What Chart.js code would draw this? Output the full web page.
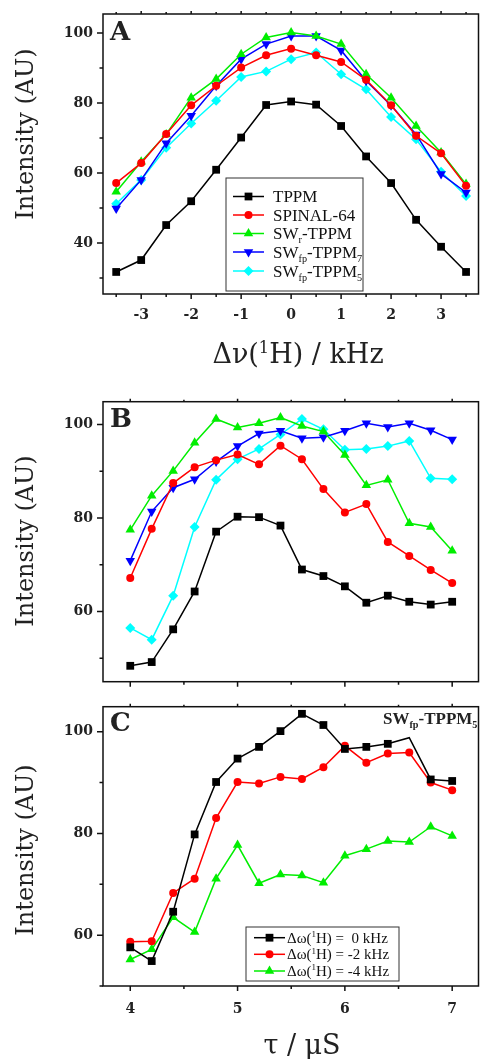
<!DOCTYPE html>
<html>
<head>
<meta charset="utf-8">
<script src="https://cdn.jsdelivr.net/npm/chart.js@4.4.1/dist/chart.umd.min.js"></script>
<style>
    body { margin: 0; background: #fff; width: 480px; height: 1059px; overflow: hidden; position: relative; }
    canvas { position: absolute; left: 0; }
</style>
</head>
<body>
<canvas id="chartA" width="480" height="400" style="top:-20px"></canvas>
<canvas id="chartB" width="480" height="350" style="top:360px"></canvas>
<canvas id="chartC" width="480" height="379" style="top:680px"></canvas>
<script>
    // Panel A: offset sweep (kHz)
    const offsets = [-3.5, -3, -2.5, -2, -1.5, -1, -0.5, 0, 0.5, 1, 1.5, 2, 2.5, 3, 3.5];
    const aTPPM   = [31.7, 35.1, 45.1, 51.9, 60.9, 70.1, 79.4, 80.4, 79.5, 73.4, 64.7, 57.1, 46.6, 38.9, 31.7];
    const aSPINAL = [57.1, 62.8, 71.1, 79.3, 84.9, 90.1, 93.6, 95.5, 93.6, 91.7, 86.6, 79.3, 70.6, 65.6, 56.3];
    const aSWr    = [54.6, 63.2, 71.0, 81.5, 86.8, 93.9, 98.7, 100.1, 99.1, 96.8, 88.2, 81.5, 73.4, 65.8, 56.8];
    const aSWfp7  = [49.8, 58.0, 68.5, 76.3, 84.9, 92.5, 96.8, 99.1, 99.1, 95.0, 86.3, 79.3, 71.0, 59.7, 54.4];
    const aSWfp5  = [51.2, 58.0, 67.2, 74.1, 80.6, 87.4, 89.0, 92.5, 94.4, 88.2, 83.9, 76.0, 69.6, 60.3, 53.4];

    // Panel B: pulse length sweep (us)
    const tau     = [4.0, 4.2, 4.4, 4.6, 4.8, 5.0, 5.2, 5.4, 5.6, 5.8, 6.0, 6.2, 6.4, 6.6, 6.8, 7.0];
    const bTPPM   = [48.4, 49.2, 56.2, 64.3, 77.1, 80.3, 80.2, 78.4, 69.0, 67.6, 65.4, 61.9, 63.4, 62.1, 61.5, 62.1];
    const bSPINAL = [67.2, 77.7, 87.5, 90.9, 92.4, 93.6, 91.5, 95.5, 92.6, 86.2, 81.2, 83.0, 74.9, 71.9, 68.9, 66.1];
    const bSWr    = [77.5, 84.8, 90.1, 96.1, 101.2, 99.4, 100.3, 101.5, 99.7, 98.5, 93.5, 87.0, 88.2, 78.9, 78.1, 73.0];
    const bSWfp7  = [70.9, 81.4, 86.5, 88.3, 92.1, 95.4, 98.1, 98.7, 97.1, 97.3, 98.7, 100.3, 99.5, 100.3, 98.8, 96.8];
    const bSWfp5  = [56.5, 54.0, 63.4, 78.1, 88.2, 92.6, 94.8, 97.9, 101.2, 99.0, 94.6, 94.8, 95.4, 96.5, 88.5, 88.3];

    // Panel C: SWfp-TPPM5 at three offsets
    const c0kHz   = [57.6, 54.9, 64.6, 79.8, 90.1, 94.7, 97.0, 100.1, 103.5, 101.3, 96.6, 97.0, 97.6, 98.8, 90.6, 90.3];
    const cm2kHz  = [58.7, 58.8, 68.3, 71.1, 83.0, 90.1, 89.8, 91.1, 90.7, 93.0, 97.2, 93.9, 95.7, 95.9, 90.0, 88.5];
    const cm4kHz  = [55.2, 57.2, 63.5, 60.6, 71.1, 77.7, 70.2, 71.9, 71.7, 70.3, 75.6, 76.9, 78.5, 78.3, 81.3, 79.5];

    // labels (_{..} = subscript, ^{..} = superscript)
    const seqLabels = ['TPPM', 'SPINAL-64', 'SW_{r}-TPPM', 'SW_{fp}-TPPM_{7}', 'SW_{fp}-TPPM_{5}'];
    const offLabels = ['\u0394\u03c9(^{1}H) =  0 kHz', '\u0394\u03c9(^{1}H) = -2 kHz', '\u0394\u03c9(^{1}H) = -4 kHz'];

    // tick values
    const aTicksX = [-3, -2, -1, 0, 1, 2, 3];
    const aMinorX = [-3.5, -2.5, -1.5, -0.5, 0.5, 1.5, 2.5, 3.5];
    const aTicksY = [40, 60, 80, 100];
    const aMinorY = [30, 50, 70, 90];
    const tauTicks = [4, 5, 6, 7];
    const tauMinor = [4.5, 5.5, 6.5];
    const bcTicksY = [60, 80, 100];
    const bcMinorY = [50, 70, 90];

    const TITLE_FONT = '"DejaVu Serif", serif';
    const LEG_FONT = '"Liberation Serif", serif';

    function pts(xs, ys) {
        return xs.map((x, i) => ({ x: x, y: ys[i] }));
    }

    // styles for the five sequences
    const styles = [
        { color: '#000000', pointStyle: 'rect', pointRadius: 5.5, rotation: 0 },
        { color: '#ff0000', pointStyle: 'circle', pointRadius: 4, rotation: 0 },
        { color: '#00ee00', pointStyle: 'triangle', pointRadius: 5.5, rotation: 0 },
        { color: '#0000ff', pointStyle: 'triangle', pointRadius: 5.5, rotation: 180 },
        { color: '#00ffff', pointStyle: 'rectRot', pointRadius: 5, rotation: 0 }
    ];

    function dataset(label, xs, ys, st, extra) {
        return Object.assign({
            label: label,
            data: pts(xs, ys),
            borderColor: st.color,
            backgroundColor: st.color,
            pointBackgroundColor: st.color,
            pointBorderColor: st.color,
            pointBorderWidth: 0,
            borderWidth: 1.5,
            pointStyle: st.pointStyle,
            pointRadius: st.pointRadius,
            pointRotation: st.rotation,
            legendRadius: st.pointRadius,
            tension: 0,
            clip: false
        }, extra || {});
    }

    // draws text with _{sub} and ^{sup} parts
    function drawRich(ctx, text, x, y, size, family, weight, align) {
        const parts = text.split(/(_\{[^}]*\}|\^\{[^}]*\})/).filter(s => s.length);
        const segs = parts.map(p => {
            if (p.startsWith('_{')) return { t: p.slice(2, -1), s: size * 0.6, dy: size * 0.25 };
            if (p.startsWith('^{')) return { t: p.slice(2, -1), s: size * 0.6, dy: -size * 0.38 };
            return { t: p, s: size, dy: 0 };
        });
        let total = 0;
        segs.forEach(g => { ctx.font = weight + ' ' + g.s + 'px ' + family; g.w = ctx.measureText(g.t).width; total += g.w; });
        let cx = align === 'center' ? x - total / 2 : x;
        ctx.textAlign = 'left';
        ctx.textBaseline = 'alphabetic';
        segs.forEach(g => {
            ctx.font = weight + ' ' + g.s + 'px ' + family;
            ctx.fillText(g.t, cx, y + g.dy);
            cx += g.w;
        });
    }

    function drawMarker(ctx, ds, x, y) {
        Chart.helpers.drawPoint(ctx, { pointStyle: ds.pointStyle, radius: ds.legendRadius, rotation: ds.pointRotation, borderWidth: 0 }, x, y);
    }

    // frame, ticks, titles, legend
    const decorPlugin = {
        id: 'decor',
        afterDraw(chart) {
            const o = chart.options.plugins.decor;
            const ctx = chart.ctx;
            const area = chart.chartArea;
            const xs = chart.scales.x, ys = chart.scales.y;
            const off = o.top;
            ctx.save();
            ctx.strokeStyle = '#111';
            ctx.lineWidth = 1.5;
            ctx.strokeRect(area.left, area.top, area.right - area.left + 4, area.bottom - area.top);

            ctx.beginPath();
            o.yMajor.forEach(v => { const p = ys.getPixelForValue(v); ctx.moveTo(area.left - 6, p); ctx.lineTo(area.left, p); });
            o.yMinor.forEach(v => { const p = ys.getPixelForValue(v); ctx.moveTo(area.left - 3.5, p); ctx.lineTo(area.left, p); });
            o.xMajor.forEach(v => {
                const p = xs.getPixelForValue(v);
                ctx.moveTo(p, area.bottom); ctx.lineTo(p, area.bottom + 5);
                ctx.moveTo(p, area.top); ctx.lineTo(p, area.top - 3);
            });
            o.xMinor.forEach(v => {
                const p = xs.getPixelForValue(v);
                ctx.moveTo(p, area.bottom); ctx.lineTo(p, area.bottom + 3);
                ctx.moveTo(p, area.top); ctx.lineTo(p, area.top - 2);
            });
            ctx.stroke();

            ctx.fillStyle = '#222';
            // panel letter
            ctx.font = 'bold 26px ' + TITLE_FONT;
            ctx.textAlign = 'left';
            ctx.textBaseline = 'alphabetic';
            ctx.fillText(o.letter, 110, o.letterY - off);

            // y title
            ctx.save();
            ctx.translate(33, o.yTitleY - off);
            ctx.rotate(-Math.PI / 2);
            ctx.font = '24px ' + TITLE_FONT;
            ctx.textAlign = 'center';
            ctx.fillText('Intensity (AU)', 0, 0);
            ctx.restore();

            // x title
            if (o.xTitle) {
                drawRich(ctx, o.xTitle, o.xTitleX, o.xTitleY - off, 27, TITLE_FONT, 'normal', 'center');
            }
            if (o.note) {
                drawRich(ctx, o.note.text, o.note.x, o.note.y - off, 17, LEG_FONT, 'bold', 'left');
            }

            // legend
            const lg = o.legend;
            if (lg) {
                ctx.fillStyle = '#fff';
                ctx.fillRect(lg.box[0], lg.box[1] - off, lg.box[2] - lg.box[0], lg.box[3] - lg.box[1]);
                ctx.strokeStyle = '#333';
                ctx.lineWidth = 1;
                ctx.strokeRect(lg.box[0], lg.box[1] - off, lg.box[2] - lg.box[0], lg.box[3] - lg.box[1]);
                chart.data.datasets.forEach((ds, i) => {
                    const yy = lg.rows[i] - off;
                    ctx.strokeStyle = ds.borderColor;
                    ctx.lineWidth = 1.5;
                    ctx.beginPath();
                    ctx.moveTo(lg.line[0], yy);
                    ctx.lineTo(lg.line[1], yy);
                    ctx.stroke();
                    ctx.fillStyle = ds.borderColor;
                    drawMarker(ctx, ds, (lg.line[0] + lg.line[1]) / 2, yy);
                    ctx.fillStyle = '#111';
                    drawRich(ctx, ds.label, lg.textX, yy + lg.size * 0.33, lg.size, LEG_FONT, 'normal', 'left');
                });
            }
            ctx.restore();
        }
    };

    function makePanel(id, o) {
        const canvas = document.getElementById(id);
        const H = canvas.height;
        return new Chart(canvas.getContext('2d'), {
            type: 'line',
            data: { datasets: o.datasets },
            options: {
                responsive: false,
                animation: false,
                layout: { padding: { top: o.plotTop - o.top, right: 0, left: 0, bottom: 0 } },
                scales: {
                    x: {
                        type: 'linear',
                        min: o.xMin,
                        max: o.xMax,
                        grid: { display: false, drawTicks: false },
                        border: { display: false },
                        afterBuildTicks: s => { s.ticks = o.decor.xMajor.map(v => ({ value: v })); },
                        ticks: {
                            display: o.xLabels,
                            padding: o.xPad,
                            color: '#222',
                            font: { family: TITLE_FONT, size: 14, weight: 'bold' },
                            callback: v => String(v)
                        },
                        afterFit: s => { s.height = H - (o.plotBottom - o.top); }
                    },
                    y: {
                        min: o.yMin,
                        max: o.yMax,
                        grid: { display: false, drawTicks: false },
                        border: { display: false },
                        afterBuildTicks: s => { s.ticks = o.decor.yMajor.map(v => ({ value: v })); },
                        ticks: {
                            padding: 10,
                            color: '#222',
                            font: { family: TITLE_FONT, size: 14, weight: 'bold' },
                            callback: v => String(v)
                        },
                        afterFit: s => { s.width = 103; }
                    }
                },
                plugins: {
                    legend: { display: false },
                    tooltip: { enabled: false },
                    decor: o.decor
                }
            },
            plugins: [decorPlugin]
        });
    }

    // Panel A
    makePanel('chartA', {
        top: -20, plotTop: 14, plotBottom: 294,
        xMin: -3.764, xMax: 3.669, yMin: 25.4, yMax: 105.4,
        xLabels: true, xPad: 13,
        datasets: [aTPPM, aSPINAL, aSWr, aSWfp7, aSWfp5].map((ys, i) => dataset(seqLabels[i], offsets, ys, styles[i])),
        decor: {
            top: -20, letter: 'A', letterY: 40, yTitleY: 134,
            xTitle: '\u0394\u03bd(^{1}H) / kHz', xTitleX: 298, xTitleY: 363,
            yMajor: aTicksY, yMinor: aMinorY,
            xMajor: aTicksX, xMinor: aMinorX,
            legend: { box: [226, 178, 363, 291], rows: [196.5, 215, 233.5, 252, 271], line: [233, 264], textX: 273, size: 17 }
        }
    });

    // Panel B
    makePanel('chartB', {
        top: 360, plotTop: 401.7, plotBottom: 681.7,
        xMin: 3.746, xMax: 7.208, yMin: 45, yMax: 104.9,
        xLabels: false, xPad: 0,
        datasets: [bTPPM, bSPINAL, bSWr, bSWfp7, bSWfp5].map((ys, i) => dataset(seqLabels[i], tau, ys, styles[i])),
        decor: {
            top: 360, letter: 'B', letterY: 427, yTitleY: 541,
            yMajor: bcTicksY, yMinor: bcMinorY,
            xMajor: tauTicks, xMinor: tauMinor
        }
    });

    // Panel C
    makePanel('chartC', {
        top: 680, plotTop: 706.7, plotBottom: 986,
        xMin: 3.746, xMax: 7.208, yMin: 50, yMax: 104.9,
        xLabels: true, xPad: 15,
        datasets: [
            dataset(offLabels[0], tau, c0kHz, styles[0], { pointRadius: tau.map(t => t === 6.6 ? 0 : 5.5) }),
            dataset(offLabels[1], tau, cm2kHz, styles[1]),
            dataset(offLabels[2], tau, cm4kHz, styles[2])
        ],
        decor: {
            top: 680, letter: 'C', letterY: 731, yTitleY: 850,
            xTitle: '\u03c4 / \u03bcS', xTitleX: 302, xTitleY: 1054,
            note: { text: 'SW_{fp}-TPPM_{5}', x: 383, y: 724 },
            yMajor: bcTicksY, yMinor: bcMinorY,
            xMajor: tauTicks, xMinor: tauMinor,
            legend: { box: [246, 927, 399, 981], rows: [937.7, 954.3, 971], line: [254, 285], textX: 287, size: 15 }
        }
    });
</script>
</body>
</html>
